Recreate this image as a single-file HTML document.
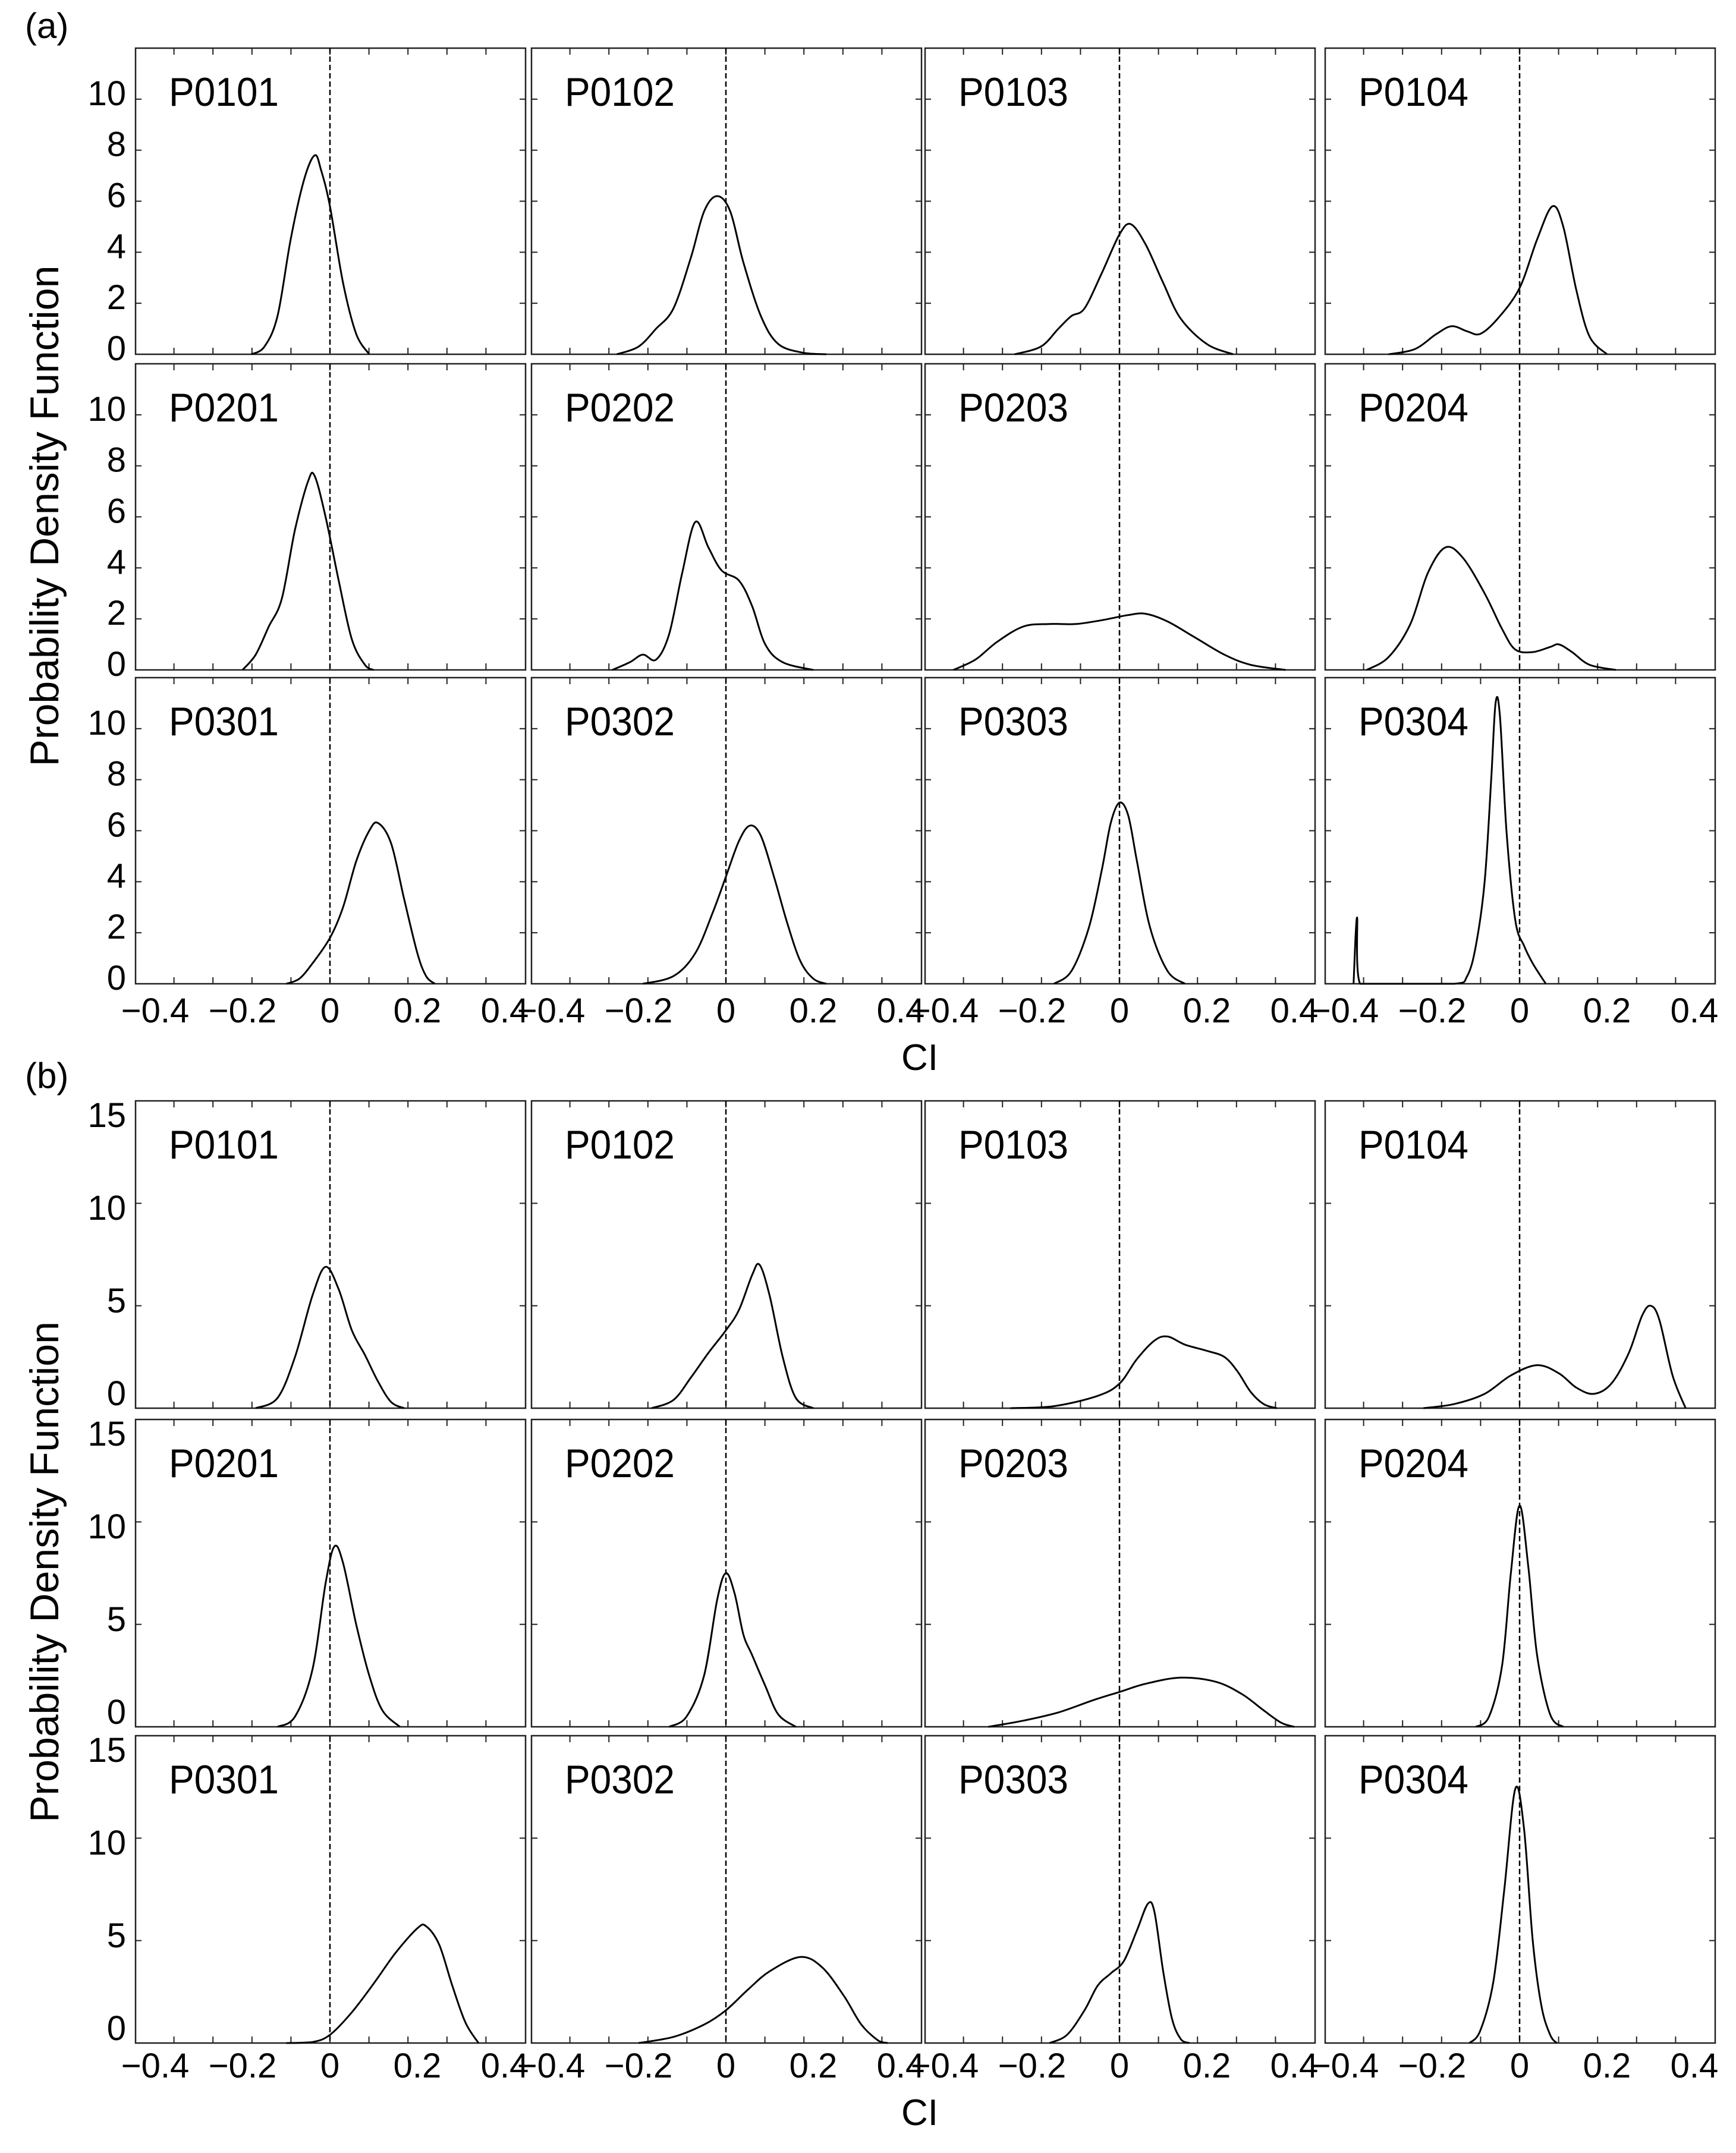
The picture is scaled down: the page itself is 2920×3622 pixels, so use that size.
<!DOCTYPE html>
<html><head><meta charset="utf-8">
<style>
html,body{margin:0;padding:0;background:#fff;}
svg{display:block;}
text{font-family:"Liberation Sans",sans-serif;fill:#000;}
</style></head>
<body>
<svg id="chart" width="2920" height="3622" viewBox="0 0 2920 3622" xmlns="http://www.w3.org/2000/svg">
<rect width="2920" height="3622" fill="#fff"/>
<g id="root"></g>
</svg>
<script>
// ---- data ----
const panelNames = ["P0101","P0102","P0103","P0104","P0201","P0202","P0203","P0204","P0301","P0302","P0303","P0304"];
const xTickLabels = ["\u22120.4","\u22120.2","0","0.2","0.4"];
const xTickValues = [-0.4,-0.2,0,0.2,0.4];
const yTicksA = [0,2,4,6,8,10];
const yTicksB = [0,5,10,15];

// figure (a) curves: x (CI) and y (density)
const aX = [
 [-0.18,-0.15,-0.12,-0.09,-0.06,-0.035,-0.02,0,0.03,0.06,0.09],
 [-0.25,-0.2,-0.16,-0.12,-0.08,-0.05,-0.02,0.01,0.04,0.08,0.12,0.18,0.23],
 [-0.24,-0.18,-0.14,-0.11,-0.08,-0.04,0,0.026,0.06,0.1,0.14,0.2,0.26],
 [-0.3,-0.24,-0.19,-0.155,-0.12,-0.09,-0.05,0,0.04,0.075,0.1,0.13,0.16,0.2],
 [-0.2,-0.17,-0.14,-0.11,-0.08,-0.05,-0.035,-0.01,0.02,0.05,0.08,0.1],
 [-0.26,-0.22,-0.19,-0.16,-0.13,-0.1,-0.07,-0.04,-0.01,0.03,0.06,0.09,0.13,0.2],
 [-0.38,-0.33,-0.28,-0.22,-0.16,-0.1,-0.04,0.02,0.06,0.11,0.17,0.24,0.3,0.38],
 [-0.35,-0.3,-0.25,-0.21,-0.17,-0.13,-0.08,-0.04,-0.01,0.03,0.07,0.09,0.12,0.16,0.22],
 [-0.1,-0.07,-0.04,0,0.03,0.06,0.09,0.11,0.14,0.17,0.2,0.22,0.24],
 [-0.19,-0.12,-0.07,-0.03,0,0.03,0.055,0.08,0.11,0.14,0.17,0.2,0.23],
 [-0.15,-0.11,-0.07,-0.04,-0.02,0,0.02,0.04,0.07,0.11,0.15],
 [-0.38,-0.372,-0.365,-0.3,-0.15,-0.12,-0.1,-0.08,-0.065,-0.055,-0.045,-0.03,-0.01,0.01,0.03,0.06]
];
const aY = [
 [0,0.3,1.5,4.5,6.8,7.8,7.2,5.8,2.8,0.8,0],
 [0,0.3,1.0,1.8,3.8,5.6,6.2,5.6,3.6,1.5,0.4,0.05,0],
 [0,0.3,1.0,1.5,1.8,3.2,4.7,5.1,4.3,2.8,1.4,0.4,0],
 [0,0.2,0.8,1.1,0.9,0.8,1.4,2.6,4.5,5.8,5.0,2.5,0.7,0],
 [0,0.6,1.7,2.8,5.5,7.4,7.6,6.0,3.5,1.2,0.2,0],
 [0,0.3,0.6,0.4,1.4,3.8,5.8,4.8,3.9,3.5,2.5,1.0,0.3,0],
 [0,0.4,1.1,1.7,1.8,1.8,1.95,2.15,2.2,1.9,1.3,0.6,0.2,0],
 [0,0.5,1.8,3.8,4.8,4.4,3.0,1.6,0.8,0.7,0.9,1.0,0.7,0.2,0],
 [0,0.2,0.8,1.8,3.0,4.8,6.0,6.3,5.5,3.3,1.2,0.3,0],
 [0,0.3,1.2,2.8,4.2,5.6,6.2,5.8,4.2,2.4,0.9,0.2,0],
 [0,0.5,2.2,4.5,6.3,7.1,6.6,4.8,2.2,0.5,0],
 [0,2.6,0,0,0,0.3,1.5,4.0,8.0,11.0,10.5,6.0,2.5,1.5,0.8,0]
];
// figure (b) curves
const bX = [
 [-0.17,-0.12,-0.08,-0.04,-0.01,0.02,0.05,0.08,0.11,0.14,0.17],
 [-0.17,-0.12,-0.08,-0.04,0,0.03,0.06,0.077,0.1,0.13,0.16,0.2],
 [-0.25,-0.15,-0.05,0,0.04,0.08,0.11,0.15,0.2,0.24,0.27,0.3,0.33,0.36],
 [-0.22,-0.15,-0.08,-0.02,0.04,0.09,0.13,0.17,0.21,0.25,0.28,0.3,0.32,0.35,0.38],
 [-0.12,-0.08,-0.04,-0.01,0.01,0.03,0.06,0.09,0.12,0.16],
 [-0.13,-0.09,-0.05,-0.02,0,0.02,0.04,0.06,0.09,0.12,0.16],
 [-0.3,-0.22,-0.14,-0.06,0,0.06,0.14,0.22,0.28,0.33,0.37,0.4],
 [-0.1,-0.07,-0.04,-0.02,0,0.02,0.04,0.07,0.1],
 [-0.1,-0.04,0,0.05,0.1,0.15,0.2,0.22,0.25,0.28,0.31,0.34],
 [-0.2,-0.12,-0.05,0,0.05,0.1,0.17,0.22,0.27,0.31,0.35,0.37],
 [-0.16,-0.12,-0.08,-0.05,-0.02,0.01,0.04,0.065,0.08,0.1,0.12,0.14,0.16],
 [-0.115,-0.09,-0.06,-0.035,-0.01,0.01,0.03,0.05,0.07,0.085]
];
const bY = [
 [0,0.5,2.5,5.5,6.9,5.8,3.8,2.6,1.3,0.3,0],
 [0,0.4,1.5,2.7,3.8,4.8,6.5,7.0,5.5,2.5,0.5,0],
 [0,0.1,0.6,1.2,2.4,3.3,3.5,3.1,2.8,2.5,1.8,0.8,0.2,0],
 [0,0.2,0.7,1.6,2.1,1.7,1.0,0.7,1.2,2.7,4.5,5.0,4.3,1.6,0],
 [0,0.5,2.8,7.0,8.8,8.0,5.0,2.5,0.8,0],
 [0,0.5,2.5,6.2,7.5,6.5,4.5,3.5,2.0,0.6,0],
 [0,0.3,0.7,1.3,1.7,2.1,2.4,2.2,1.6,0.8,0.2,0],
 [0,0.5,3.0,7.5,10.8,7.8,3.5,0.6,0],
 [0,0.05,0.4,1.5,2.9,4.4,5.6,5.7,4.8,2.8,1.0,0],
 [0,0.3,0.9,1.6,2.6,3.5,4.2,3.7,2.3,0.9,0.1,0],
 [0,0.4,1.6,2.8,3.4,4.0,5.5,6.8,6.4,3.5,1.2,0.2,0],
 [0,0.6,3.0,7.5,12.4,10.5,5.0,1.8,0.4,0]
];

// ---- layout ----
const NS = "http://www.w3.org/2000/svg";
const root = document.getElementById('root');
const colLeft = [228, 894, 1556, 2229];
const panelW = 656;
const zeroOff = 327;
const pxPerUnit = 735;
const figA = {tops:[81,612,1140], h:515, ymax:12, ticks:yTicksA, xs:aX, ys:aY, label:"(a)", labelY:64, tickLabelY:1720, ciY:1800, fig:"a", lblBot:11, lblTop:null};
const figB = {tops:[1852,2388,2920], h:517, ymax:15, ticks:yTicksB, xs:bX, ys:bY, label:"(b)", labelY:1830, tickLabelY:3495, ciY:3575, fig:"b", lblBot:26, lblTop:23};

function mk(tag, attrs, parent){
  const e = document.createElementNS(NS, tag);
  for (const k in attrs) e.setAttribute(k, attrs[k]);
  (parent||root).appendChild(e);
  return e;
}

function smoothPath(pts){
  let d = "M" + pts[0][0].toFixed(1) + "," + pts[0][1].toFixed(1);
  for (let i=0;i<pts.length-1;i++){
    const p0 = pts[i-1]||pts[i], p1 = pts[i], p2 = pts[i+1], p3 = pts[i+2]||p2;
    const t = 1/6;
    let c1x = p1[0]+(p2[0]-p0[0])*t, c1y = p1[1]+(p2[1]-p0[1])*t;
    let c2x = p2[0]-(p3[0]-p1[0])*t, c2y = p2[1]-(p3[1]-p1[1])*t;
    c1y = Math.min(c1y, pts.base); c2y = Math.min(c2y, pts.base);
    d += " C"+c1x.toFixed(1)+","+c1y.toFixed(1)+" "+c2x.toFixed(1)+","+c2y.toFixed(1)+" "+p2[0].toFixed(1)+","+p2[1].toFixed(1);
  }
  return d;
}

function drawFigure(F){
  const g = mk('g', {});
  
  
  const fl = mk('text', {x:42, y:F.labelY, 'font-size':60}, g);
  fl.textContent = F.label;
  
  

  for (let r=0;r<3;r++){
    const top = F.tops[r], bot = top + F.h;
    const yScale = v => bot - v/F.ymax*F.h;
    // y tick label centers
    const maxT = F.ticks[F.ticks.length-1];
    const lblCenter = v => {
      if (F.lblTop === null) return yScale(v) - F.lblBot;
      const c0 = bot - F.lblBot, c1 = top + F.lblTop;
      return c0 + (c1 - c0) * v / maxT;
    };
    F.ticks.forEach(v=>{
      const t = mk('text', {x:212, y:lblCenter(v)+21, 'font-size':58, 'text-anchor':'end'}, g);
      t.textContent = String(v);
      
      
    });
    for (let c=0;c<4;c++){
      const idx = r*4+c;
      const left = colLeft[c], zero = left + zeroOff;
      const xScale = v => zero + v*pxPerUnit;
      const pg = mk('g', {}, g);
      
      
      const fr = mk('rect', {x:left, y:top, width:panelW, height:F.h, fill:'none', stroke:'#222', 'stroke-width':2.5}, pg);
      
      
      for (let k=-4;k<=4;k++){
        const tx = zero + k*65.6;
        const a = mk('line', {x1:tx, y1:top, x2:tx, y2:top+11, stroke:'#222', 'stroke-width':2}, pg);
        
        
        const b = mk('line', {x1:tx, y1:bot, x2:tx, y2:bot-11, stroke:'#222', 'stroke-width':2}, pg);
        
        
      }
      F.ticks.forEach(v=>{
        const ty = yScale(v);
        const a = mk('line', {x1:left, y1:ty, x2:left+10, y2:ty, stroke:'#222', 'stroke-width':2}, pg);
        
        
        const b = mk('line', {x1:left+panelW, y1:ty, x2:left+panelW-10, y2:ty, stroke:'#222', 'stroke-width':2}, pg);
        
        
      });
      const zl = mk('line', {x1:zero, y1:top, x2:zero, y2:bot, stroke:'#000', 'stroke-width':2.5, 'stroke-dasharray':'9 5'}, pg);
      
      
      const lab = mk('text', {x:left+56, y:top+97, 'font-size':68, textLength:185, lengthAdjust:'spacingAndGlyphs'}, pg);
      lab.textContent = panelNames[idx];
      
      
      const xs = F.xs[idx], ys = F.ys[idx];
      const pts = xs.map((v,i)=>[xScale(v), yScale(ys[i])]);
      pts.base = bot;
      const p = mk('path', {d:smoothPath(pts), fill:'none', stroke:'#000', 'stroke-width':3, 'stroke-linejoin':'round'}, pg);
      
      
      if (r===2){
        xTickValues.forEach((v,i)=>{
          const t = mk('text', {x:xScale(v), y:F.tickLabelY, 'font-size':58, 'text-anchor':'middle'}, g);
          t.textContent = xTickLabels[i];
          
          
        });
      }
    }
  }
  const ci = mk('text', {x:1547, y:F.ciY, 'font-size':62, 'text-anchor':'middle'}, g);
  ci.textContent = "CI";
  
  
  const cy = (F.tops[0] + F.tops[2] + F.h)/2;
  const yt = mk('text', {x:0, y:0, 'font-size':68, 'text-anchor':'middle', transform:'translate(98,'+cy+') rotate(-90)'}, g);
  yt.textContent = "Probability Density Function";
  
  
}
drawFigure(figA);
drawFigure(figB);
</script>
</body></html>
